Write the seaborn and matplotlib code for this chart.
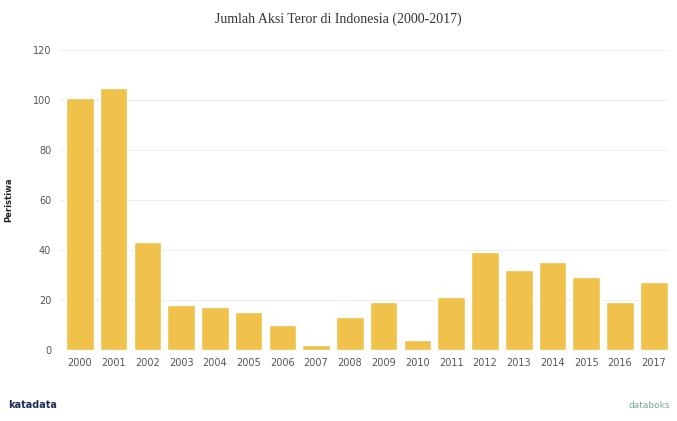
import matplotlib
matplotlib.use("Agg")
import matplotlib.pyplot as plt
import seaborn as sns
import pandas as pd

years = [str(y) for y in range(2000, 2018)]
counts = [101, 105, 43, 18, 17, 15, 10, 2, 13, 19, 4, 21, 39, 32, 35, 29, 19, 27]

sns.set_theme(style="white")
plt.rcParams['font.family'] = ['DejaVu Sans']

df = pd.DataFrame({"Tahun": years, "Peristiwa": counts})

fig = plt.figure(figsize=(6.77, 4.21), dpi=100)
ax = fig.add_axes([0.088, 0.169, 0.90, 0.712])
sns.barplot(data=df, x="Tahun", y="Peristiwa", color="#F0C14B", saturation=1,
            width=0.82, ax=ax)
ax.set_ylim(0, 120)
ax.set_yticks(range(0, 121, 20))
ax.grid(axis="y", color="#f0f0f0", linewidth=0.8)
ax.set_axisbelow(True)
for s in ax.spines.values():
    s.set_visible(False)
ax.tick_params(axis="both", labelsize=7, colors="#555555", length=0, pad=6)
ax.set_xlabel("")
ax.set_ylabel("Peristiwa", fontsize=6, fontweight="bold", color="#222222", labelpad=14)
ax.set_xlim(-0.6, 17.45)

fig.text(0.5, 0.955, "Jumlah Aksi Teror di Indonesia (2000-2017)", ha="center",
         va="center", fontsize=10, family="Liberation Serif", color="#333333")
fig.text(0.012, 0.025, "katadata", fontsize=7, fontweight="bold", color="#1f2d5a",
         ha="left", va="bottom")
fig.text(0.99, 0.025, "databoks", fontsize=6.5, color="#7aa89a", ha="right", va="bottom")

fig.savefig("out.png", dpi=100, facecolor="white")
